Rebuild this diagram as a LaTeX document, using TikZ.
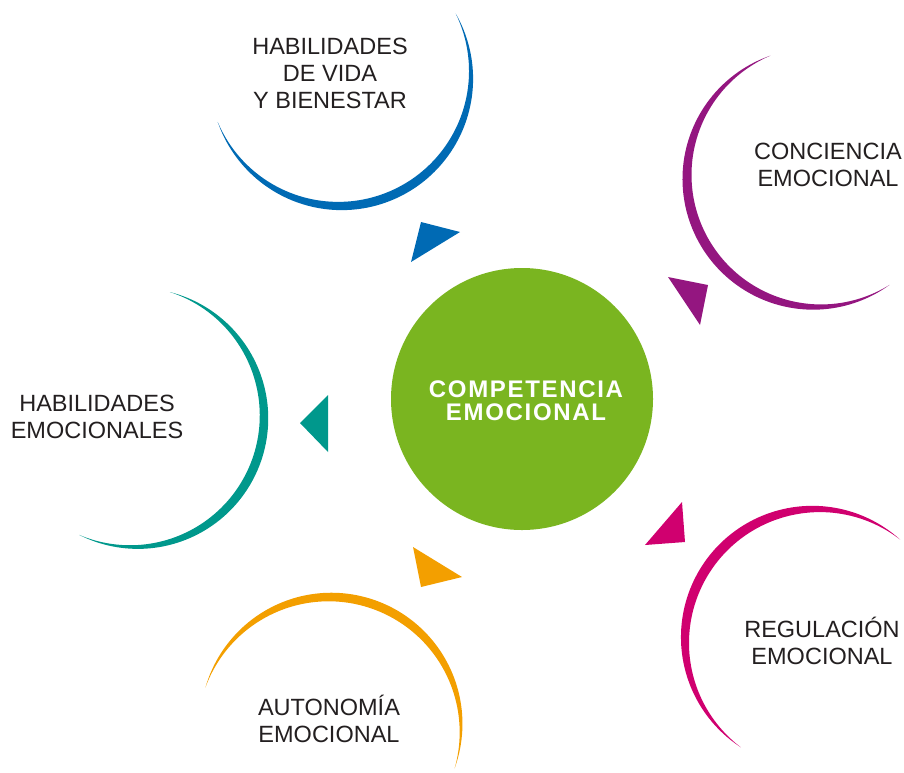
\documentclass[tikz,border=0pt]{standalone}
\usepackage{fontspec}
\setmainfont{Liberation Sans}
\newfontfamily\spacedfont[LetterSpace=7]{Liberation Sans}
\definecolor{cblue}{RGB}{0,106,180}
\definecolor{cpurple}{RGB}{148,22,128}
\definecolor{cteal}{RGB}{0,152,140}
\definecolor{corange}{RGB}{243,159,0}
\definecolor{cmagenta}{RGB}{208,0,111}
\definecolor{cgreen}{RGB}{122,181,32}
\definecolor{ctext}{RGB}{35,31,32}
\newcommand\crescent[7]{%
  \fill[#7] plot[domain=0:1,samples=100]
   ({#1+(#3+0.5*#6*sin(180*\x))*cos(#4+(#5-#4)*\x)},{#2+(#3+0.5*#6*sin(180*\x))*sin(#4+(#5-#4)*\x)})
   -- plot[domain=1:0,samples=100]
   ({#1+(#3-0.5*#6*sin(180*\x))*cos(#4+(#5-#4)*\x)},{#2+(#3-0.5*#6*sin(180*\x))*sin(#4+(#5-#4)*\x)})
   -- cycle;}
\tikzset{
  label text/.style={inner sep=0pt, align=center, text=ctext, font=\fontsize{23.5}{27}\selectfont},
  core/.style={circle, fill=cgreen, minimum size=262pt, inner sep=0pt},
  core text/.style={inner sep=0pt, align=center, text=white, font=\spacedfont\bfseries\fontsize{24}{23}\selectfont},
}
\begin{document}
\begin{tikzpicture}[x=1pt,y=-1pt]
\useasboundingbox (0,0) rectangle (904,772);
\clip (0,0) rectangle (904,772);
% central circle
\node[core] (core) at (522,399) {};
\node[core text] (coretext) at (526,401) {COMPETENCIA\\EMOCIONAL};
% crescents
\crescent{340}{75}{131}{159}{-28}{9}{cblue}
\crescent{817}{177}{130}{249}{56}{10}{cpurple}
\crescent{134}{417}{130}{-74}{115}{9}{cteal}
\crescent{330}{728}{131}{198}{378}{9}{corange}
\crescent{816}{640}{131}{310}{125}{10}{cmagenta}
% triangles
\fill[cblue] (421,222) -- (460,232) -- (411,262) -- cycle;
\fill[cpurple] (668,277) -- (708,285) -- (700,325) -- cycle;
\fill[cteal] (300,423) -- (328,395) -- (328,452) -- cycle;
\fill[corange] (413,547) -- (462,577) -- (421,587) -- cycle;
\fill[cmagenta] (682,502) -- (685,542) -- (645,545) -- cycle;
% labels
\node[label text] (vida) at (330,73) {HABILIDADES\\DE VIDA\\Y BIENESTAR};
\node[label text] (conciencia) at (828,164.5) {CONCIENCIA\\EMOCIONAL};
\node[label text] (habemo) at (97,417) {HABILIDADES\\EMOCIONALES};
\node[label text] (autonomia) at (329,719) {AUTONOMÍA\\EMOCIONAL};
\node[label text] (regulacion) at (822,641) {REGULACIÓN\\EMOCIONAL};
\end{tikzpicture}
\end{document}
